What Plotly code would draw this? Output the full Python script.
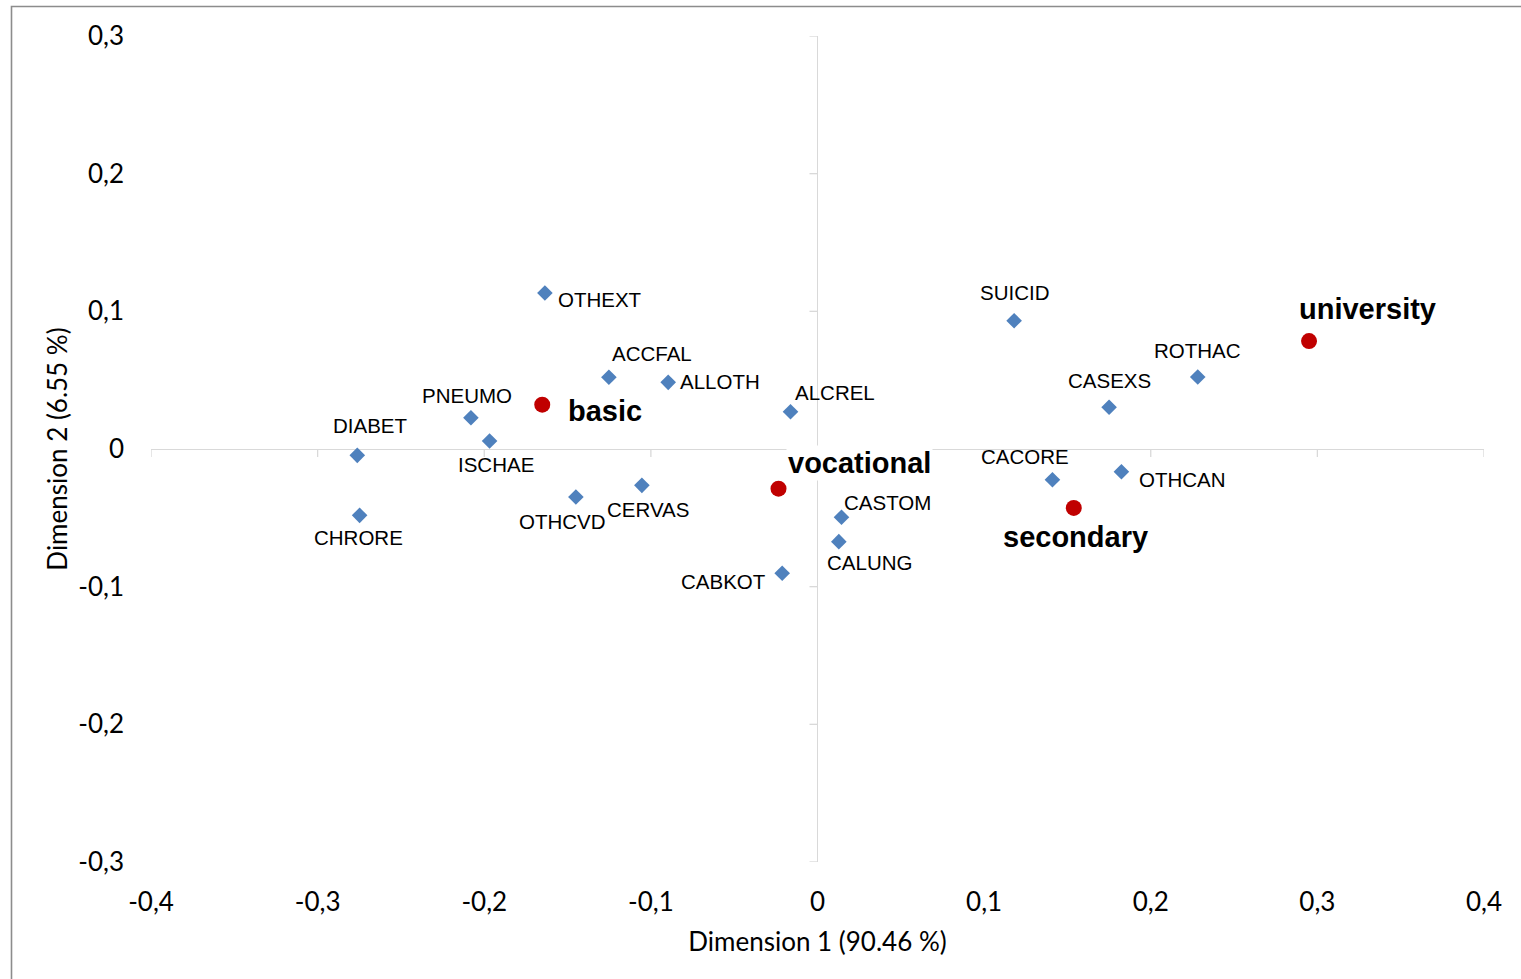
import plotly.graph_objects as go

# ---- data ----
cause_names = ["OTHEXT", "ACCFAL", "ALLOTH", "ALCREL", "PNEUMO", "ISCHAE", "DIABET",
               "CHRORE", "OTHCVD", "CERVAS", "CASTOM", "CALUNG", "CABKOT", "SUICID",
               "ROTHAC", "CASEXS", "CACORE", "OTHCAN"]
cause_dim1 = [-0.1636, -0.1252, -0.0896, -0.0162, -0.2080, -0.1968, -0.2762,
              -0.2748, -0.1450, -0.1054, 0.0144, 0.0128, -0.0212, 0.1180,
              0.2282, 0.1750, 0.1410, 0.1824]
cause_dim2 = [0.1133, 0.0521, 0.0484, 0.0271, 0.0227, 0.0058, -0.0046,
              -0.0482, -0.0349, -0.0264, -0.0496, -0.0673, -0.0903, 0.0932,
              0.0523, 0.0303, -0.0223, -0.0165]

edu_names = ["basic", "vocational", "secondary", "university"]
edu_dim1 = [-0.1652, -0.0234, 0.1538, 0.2950]
edu_dim2 = [0.0322, -0.0288, -0.0428, 0.0784]

x_ticks = [-0.4, -0.3, -0.2, -0.1, 0.0, 0.1, 0.2, 0.3, 0.4]
x_tick_text = ["-0,4", "-0,3", "-0,2", "-0,1", "0", "0,1", "0,2", "0,3", "0,4"]
y_ticks = [-0.3, -0.2, -0.1, 0.0, 0.1, 0.2, 0.3]
y_tick_text = ["-0,3", "-0,2", "-0,1", "0", "0,1", "0,2", "0,3"]

x_title = "Dimension 1 (90.46 %)"
y_title = "Dimension 2 (6.55 %)"

# ---- label offsets (pixels: dx right, dy down) ----
cause_offsets = {
    "OTHEXT": (55, 6), "ACCFAL": (43, -24), "ALLOTH": (52, -1), "ALCREL": (44, -19),
    "PNEUMO": (-4, -22), "ISCHAE": (6, 23), "DIABET": (13, -30), "CHRORE": (-1, 22),
    "OTHCVD": (-13, 24), "CERVAS": (6, 24), "CASTOM": (46, -15), "CALUNG": (31, 21),
    "CABKOT": (-59, 8), "SUICID": (0, -28), "ROTHAC": (0, -27), "CASEXS": (0, -27),
    "CACORE": (-27, -23), "OTHCAN": (61, 8),
}
edu_offsets = {"basic": (63, 6), "vocational": (81, -26), "secondary": (2, 29),
               "university": (58, -32)}

W, H = 1521, 979
L, R, T, B = 151, 37, 36, 117
PW, PH = W - L - R, H - T - B

fig = go.Figure()
fig.add_trace(go.Scatter(
    x=cause_dim1, y=cause_dim2, mode="markers",
    marker=dict(symbol="diamond", size=12, color="#4F81BD"),
    hoverinfo="skip", showlegend=False))
fig.add_trace(go.Scatter(
    x=edu_dim1, y=edu_dim2, mode="markers",
    marker=dict(symbol="circle", size=16, color="#C00000"),
    hoverinfo="skip", showlegend=False))

for n, xv, yv in zip(cause_names, cause_dim1, cause_dim2):
    dx, dy = cause_offsets[n]
    fig.add_annotation(x=xv, y=yv, text=n, showarrow=False, xshift=dx, yshift=-dy,
                       font=dict(family="Liberation Sans", size=20.5, color="#000000"))
for n, xv, yv in zip(edu_names, edu_dim1, edu_dim2):
    dx, dy = edu_offsets[n]
    fig.add_annotation(x=xv, y=yv, text="<b>%s</b>" % n, showarrow=False,
                       xshift=dx, yshift=-dy, bgcolor="white" if n == "vocational" else None,
                       font=dict(family="Liberation Sans", size=29, color="#000000"))

shapes = []
for xv in x_ticks:
    shapes.append(dict(type="line", xref="x", yref="y", x0=xv, x1=xv,
                       ysizemode="pixel", yanchor=0, y0=-8, y1=0,
                       line=dict(color="#d9d9d9", width=1.3), layer="below"))
for yv in y_ticks:
    shapes.append(dict(type="line", xref="x", yref="y", y0=yv, y1=yv,
                       xsizemode="pixel", xanchor=0, x0=-8, x1=0,
                       line=dict(color="#d9d9d9", width=1.3), layer="below"))
# outer chart border
bx0, by0 = 11.5, 6.5
shapes.append(dict(type="rect", xref="paper", yref="paper",
                   x0=(bx0 - L) / PW, x1=(W + 10 - L) / PW,
                   y0=(H - B - (H + 10)) / PH, y1=(H - B - by0) / PH,
                   line=dict(color="#8c8c8c", width=1.6), layer="below"))
fig.update_layout(shapes=shapes)

tick_font = dict(family="Lato", size=26, color="#000000")
fig.update_xaxes(range=[-0.4, 0.4], showgrid=False, showline=False,
                 zeroline=True, zerolinecolor="#d9d9d9", zerolinewidth=1.3,
                 tickvals=x_ticks, ticktext=x_tick_text, ticks="",
                 ticklabelstandoff=22, tickfont=tick_font,
                 title=dict(text=x_title, font=tick_font, standoff=16),
                 automargin=False)
fig.update_yaxes(range=[-0.3, 0.3], showgrid=False, showline=False,
                 zeroline=True, zerolinecolor="#d9d9d9", zerolinewidth=1.3,
                 tickvals=y_ticks, ticktext=y_tick_text, ticks="",
                 ticklabelstandoff=26, tickfont=tick_font,
                 title=dict(text=y_title, font=tick_font, standoff=3),
                 automargin=False)
fig.update_layout(width=W, height=H, margin=dict(l=L, r=R, t=T, b=B),
                  plot_bgcolor="white", paper_bgcolor="white", showlegend=False)

fig.write_html("out.html", config={"displayModeBar": False},
               post_script="document.body.style.margin='0';document.body.style.overflow='hidden';")
